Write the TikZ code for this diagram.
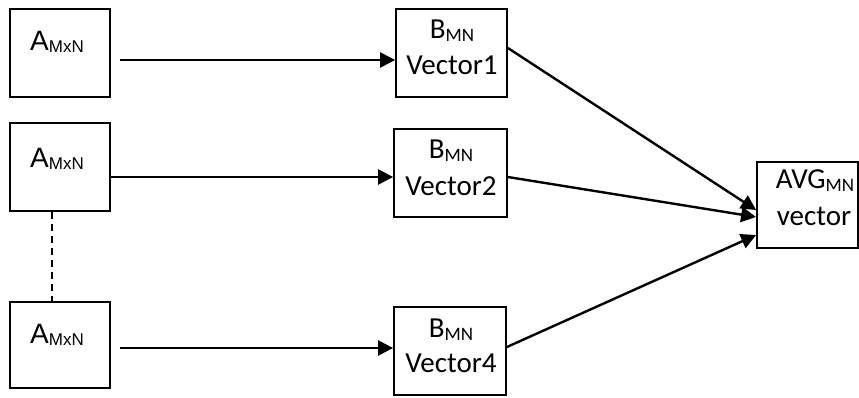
\documentclass[tikz,border=0pt]{standalone}
\usepackage{fontspec}
\setmainfont{Carlito}
\newfontfamily\arialfont{Liberation Sans}
\usetikzlibrary{arrows.meta}

% subscripted labels
\newcommand{\Asub}{{\arialfont\fontsize{28}{30}\selectfont A\raisebox{-2pt}{\fontsize{17}{17}\selectfont MxN}}}
\newcommand{\Bsub}[1]{{\fontsize{29}{30}\selectfont #1\raisebox{-3pt}{\fontsize{19}{19}\selectfont MN}}}

\begin{document}
\begin{tikzpicture}[x=1pt,y=-1pt,
  box/.style={draw,line width=1.8pt,inner sep=0pt,minimum width=#1},
  box/.default=100pt,
  lbl/.style={anchor=base,inner sep=0pt},
  big/.style={font=\fontsize{29}{30}\selectfont},
  arr/.style={line width=2.4pt,-{Triangle[length=15pt,width=15pt]}}]
\useasboundingbox (0,0) rectangle (859,397);

% input matrices
\node[box,minimum height=88pt] (a1) at (60,53) {};
\node[box,minimum height=88pt] (a2) at (60,167) {};
\node[box,minimum height=86pt] (a3) at (60,345) {};
\node[lbl] (la1) at (57,50) {\Asub};
\node[lbl] (la2) at (57,167) {\Asub};
\node[lbl] (la3) at (57,343) {\Asub};

% vectors
\node[box=111pt,minimum height=88pt] (b1) at (451.5,53) {};
\node[box=113pt,minimum height=88pt] (b2) at (450.5,173) {};
\node[box=112pt,minimum height=88pt] (b3) at (450,351) {};
\node[lbl] (lb1) at (452,38) {\Bsub{B}};
\node[lbl,big] (lv1) at (452,74) {Vector1};
\node[lbl] (lb2) at (451,158) {\Bsub{B}};
\node[lbl,big] (lv2) at (451,195) {Vector2};
\node[lbl] (lb3) at (451,337) {\Bsub{B}};
\node[lbl,big] (lv3) at (451,372) {Vector4};

% average vector
\node[box=101pt,minimum height=86pt] (avg) at (807.5,205) {};
\node[lbl] (lavg) at (815,188) {\Bsub{AVG}};
\node[lbl,big] (lvec) at (814,225) {vector};

% connector end points
\coordinate (s1) at (120,60);
\coordinate (s2) at (110,177);
\coordinate (s3) at (120,348);
\coordinate (o1) at (507,48);
\coordinate (o2) at (507,177);
\coordinate (o3) at (506,347);
\coordinate (t1) at (757,210);
\coordinate (t2) at (757,217);
\coordinate (t3) at (757,235);

\draw[arr] (s1) -- (s1 -| b1.west);
\draw[arr] (s2) -- (s2 -| b2.west);
\draw[arr] (s3) -- (s3 -| b3.west);
\draw[arr] (o1 -| b1.east) -- (t1 -| avg.west);
\draw[arr] (o2 -| b2.east) -- (t2 -| avg.west);
\draw[arr] (o3 -| b3.east) -- (t3 -| avg.west);

\draw[line width=1.6pt,dash pattern=on 7pt off 5pt] ([xshift=-8pt]a2.south) -- ([xshift=-8pt]a3.north);
\end{tikzpicture}
\end{document}
